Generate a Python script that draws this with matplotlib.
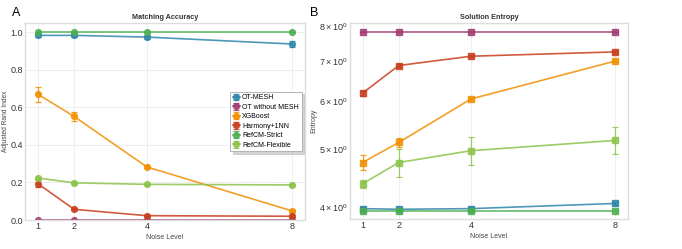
import numpy as np
import matplotlib
matplotlib.use("Agg")
import matplotlib.pyplot as plt

plt.rcParams['font.family'] = ['Liberation Sans', 'DejaVu Sans']

noise = [1, 2, 4, 8]
methods = ['OT-MESH', 'OT without MESH', 'XGBoost', 'Harmony+1NN',
           'RefCM-Strict', 'RefCM-Flexible']
colors = ['#2E86AB', '#A23B72', '#F18F01', '#C73E1D', '#4CAF50', '#8BC34A']

# adjusted rand index (mean, error)
ari_ot_mesh = [0.984, 0.984, 0.975, 0.938]
ari_ot_mesh_err = [0.010, 0.010, 0.010, 0.015]
ari_ot_plain = [0.0, 0.0, 0.0, 0.0]
ari_ot_plain_err = [0.0, 0.0, 0.0, 0.0]
ari_xgb = [0.671, 0.552, 0.283, 0.048]
ari_xgb_err = [0.040, 0.025, 0.008, 0.004]
ari_harmony = [0.194, 0.057, 0.023, 0.020]
ari_harmony_err = [0.020, 0.005, 0.004, 0.004]
ari_strict = [1.0, 1.0, 1.0, 1.0]
ari_strict_err = [0.0, 0.0, 0.0, 0.0]
ari_flex = [0.224, 0.198, 0.190, 0.187]
ari_flex_err = [0.006, 0.004, 0.004, 0.004]

# solution entropy (mean, error)
ent_ot_mesh = [3.98, 3.97, 3.98, 4.06]
ent_ot_mesh_err = [0.02, 0.02, 0.02, 0.02]
ent_ot_plain = [7.83, 7.83, 7.83, 7.83]
ent_ot_plain_err = [0.0, 0.0, 0.0, 0.0]
ent_xgb = [4.75, 5.13, 6.06, 7.01]
ent_xgb_err = [0.13, 0.09, 0.02, 0.02]
ent_harmony = [6.20, 6.89, 7.14, 7.26]
ent_harmony_err = [0.06, 0.03, 0.03, 0.03]
ent_strict = [3.95, 3.95, 3.95, 3.95]
ent_strict_err = [0.0, 0.0, 0.0, 0.0]
ent_flex = [4.38, 4.75, 4.97, 5.17]
ent_flex_err = [0.07, 0.25, 0.27, 0.27]

ari = [(ari_ot_mesh, ari_ot_mesh_err), (ari_ot_plain, ari_ot_plain_err),
       (ari_xgb, ari_xgb_err), (ari_harmony, ari_harmony_err),
       (ari_strict, ari_strict_err), (ari_flex, ari_flex_err)]
ent = [(ent_ot_mesh, ent_ot_mesh_err), (ent_ot_plain, ent_ot_plain_err),
       (ent_xgb, ent_xgb_err), (ent_harmony, ent_harmony_err),
       (ent_strict, ent_strict_err), (ent_flex, ent_flex_err)]

fig = plt.figure(figsize=(6.82, 2.49), dpi=100)
ax1 = fig.add_axes([25 / 682, 29 / 249, 280 / 682, 197 / 249])
ax2 = fig.add_axes([350 / 682, 30 / 249, 278 / 682, 196 / 249])


def style(ax):
    ax.set_facecolor('white')
    ax.grid(True, color='#eeeeee', lw=0.7)
    ax.set_axisbelow(True)
    for s in ax.spines.values():
        s.set_color('#dddddd')
        s.set_linewidth(1.0)
    ax.tick_params(which='both', length=0, labelsize=6.5, labelcolor='#333333', pad=1.5)


for (m, e), name, c in zip(ari, methods, colors):
    ax1.errorbar(noise, m, yerr=e, color=c, marker='o', ms=4.2, lw=1.2,
                 capsize=2.5, elinewidth=0.9, capthick=0.9, alpha=0.85, label=name)
for (m, e), name, c in zip(ent, methods, colors):
    ax2.errorbar(noise, m, yerr=e, color=c, marker='s', ms=4.2, lw=1.2,
                 capsize=2.5, elinewidth=0.9, capthick=0.9, alpha=0.85, label=name)

style(ax1)
ax1.set_ylim(0, 1.05)
ax1.set_xticks(noise)
ax1.set_title('Matching Accuracy', fontsize=5.2, fontweight='bold', pad=3, color='#333333')
ax1.set_xlabel('Noise Level', fontsize=5, color='#444444', labelpad=2)
ax1.set_ylabel('Adjusted Rand Index', fontsize=4.8, color='#444444', labelpad=1)
leg = ax1.legend(loc='center right', fontsize=5, frameon=True,
                 shadow={'color': '#aaaaaa', 'alpha': 0.5},
                 borderaxespad=0.5, handlelength=1.0, handletextpad=0.3,
                 labelspacing=0.35, borderpad=0.4, fancybox=False)
leg.get_frame().set_edgecolor('#aaaaaa')
leg.get_frame().set_linewidth(0.6)

style(ax2)
ax2.set_yscale('log')
ax2.set_ylim(3.825, 8.11)
ax2.set_xticks(noise)
ax2.set_xticklabels([str(n) for n in noise])
ax2.set_title('Solution Entropy', fontsize=5.2, fontweight='bold', pad=3, color='#333333')
ax2.set_xlabel('Noise Level', fontsize=5, color='#444444', labelpad=2)
ax2.set_ylabel('Entropy', fontsize=5, color='#444444', labelpad=1)

fig.text(12 / 682, 1 - 13 / 249, 'A', fontsize=9, va='center', ha='left')
fig.text(310 / 682, 1 - 13 / 249, 'B', fontsize=9, va='center', ha='left')

fig.savefig('out.png', dpi=100, facecolor='white')
